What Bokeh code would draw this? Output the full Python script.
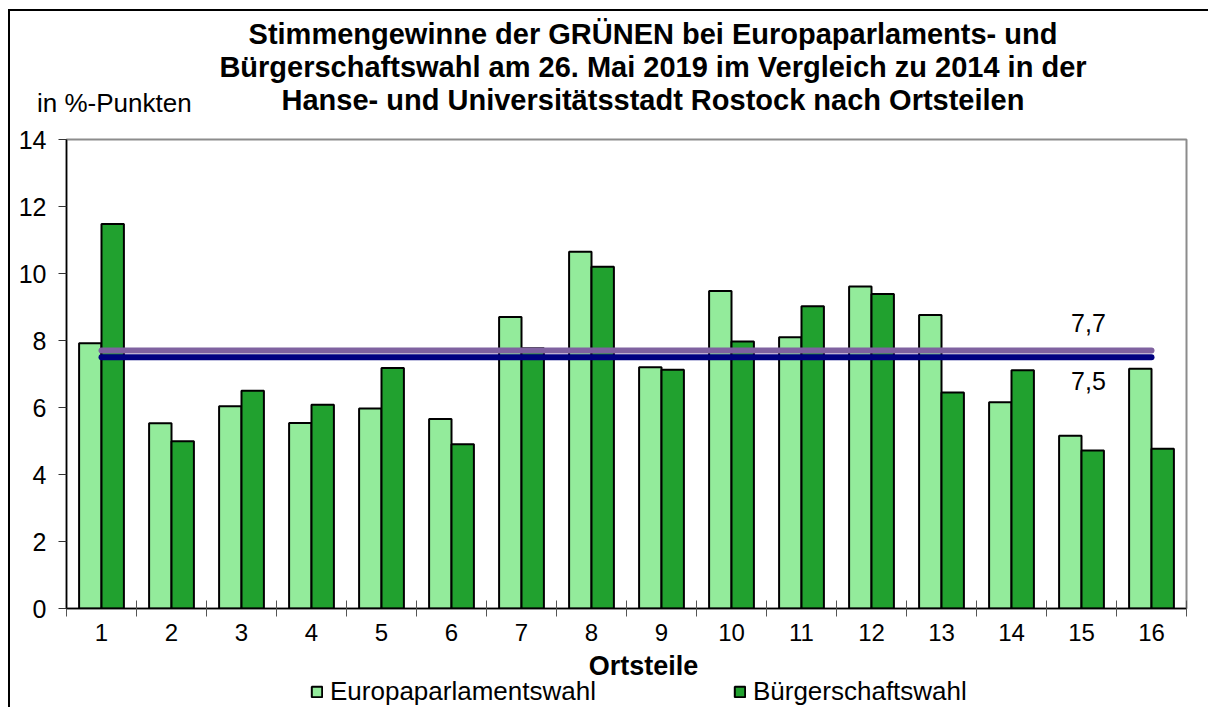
from bokeh.plotting import figure
from bokeh.layouts import column
from bokeh.models import (Range1d, FixedTicker, Label, Legend, LegendItem,
                          ColumnDataSource, Div)
from bokeh.core.properties import value
from bokeh.embed import file_html
from bokeh.resources import INLINE
import numpy as np

# ---- data ----
ortsteile = list(range(1, 17))
europawahl = [7.92, 5.53, 6.04, 5.54, 5.97, 5.66, 8.70, 10.65, 7.20, 9.48, 8.10, 9.61, 8.76, 6.16, 5.16, 7.16]
buergerschaftswahl = [11.48, 4.99, 6.50, 6.08, 7.18, 4.90, 7.77, 10.20, 7.13, 7.97, 9.02, 9.39, 6.45, 7.11, 4.72, 4.77]
mittel_europa = 7.7
mittel_buerger = 7.5
y_ticks = [0, 2, 4, 6, 8, 10, 12, 14]
title_lines = ["Stimmengewinne der GRÜNEN bei Europaparlaments- und",
               "Bürgerschaftswahl am 26. Mai 2019 im Vergleich zu 2014 in der",
               "Hanse- und Universitätsstadt Rostock nach Ortsteilen"]
unit_label = "in %-Punkten"
x_title = "Ortsteile"
series_names = ["Europaparlamentswahl", "Bürgerschaftswahl"]

FONT = "Liberation Sans"
LIGHT = "#93EB9B"
DARK = "#21A12F"
W = 1198
TOP_H = 116
MAIN_H = 524
BOT_H = 56

# ---- header (title block) ----
title_html = (
    f'<div style="position:relative;width:{W}px;height:{TOP_H}px;'
    f'font-family:\'{FONT}\';color:black;">'
    '<div style="position:absolute;left:143px;top:7px;width:1000px;'
    'text-align:center;font-size:29px;font-weight:bold;line-height:33px;'
    'white-space:nowrap;">'
    + "<br>".join(title_lines) +
    '</div>'
    '<div style="position:absolute;left:27px;top:77px;font-size:26px;'
    f'line-height:30px;white-space:nowrap;">{unit_label}</div>'
    '</div>')
top = Div(text=title_html, width=W, height=TOP_H, margin=0)

# ---- main chart ----
p = figure(width=W, height=MAIN_H, output_backend="svg", toolbar_location=None,
           x_range=Range1d(0.5, 16.5), y_range=Range1d(0, 14),
           min_border_left=56, min_border_right=22, min_border_top=12,
           min_border_bottom=43, background_fill_color="white",
           border_fill_color="white")
p.xgrid.visible = False
p.ygrid.visible = False
p.outline_line_color = "#8c8c8c"
p.outline_line_width = 2

x = np.array(ortsteile, dtype=float)
bw = 0.32
src = ColumnDataSource(dict(x_eu=x - bw / 2, x_bu=x + bw / 2,
                            eu=europawahl, bu=buergerschaftswahl))
r_eu = p.vbar(x="x_eu", top="eu", width=bw, bottom=0, source=src,
              fill_color=LIGHT, line_color="black", line_width=2)
r_bu = p.vbar(x="x_bu", top="bu", width=bw, bottom=0, source=src,
              fill_color=DARK, line_color="black", line_width=2)

p.line([ortsteile[0], ortsteile[-1]], [mittel_europa] * 2, line_color="#7F62A0",
       line_width=6, line_cap="round")
p.line([ortsteile[0], ortsteile[-1]], [mittel_buerger] * 2, line_color="#000080",
       line_width=6, line_cap="round")

fmt = lambda v: f"{v:.1f}".replace(".", ",")
p.add_layout(Label(x=15.1, y=mittel_europa, y_offset=28, text=fmt(mittel_europa),
                   text_font=FONT, text_font_size="25px", text_align="center",
                   text_baseline="middle", text_color="black"))
p.add_layout(Label(x=15.1, y=mittel_buerger, y_offset=-24, text=fmt(mittel_buerger),
                   text_font=FONT, text_font_size="25px", text_align="center",
                   text_baseline="middle", text_color="black"))

yax = p.yaxis[0]
yax.ticker = FixedTicker(ticks=y_ticks)
yax.major_tick_in = 0
yax.major_tick_out = 8
yax.minor_tick_line_color = None
yax.axis_line_color = "black"
yax.axis_line_width = 1.5
yax.major_tick_line_color = "#333333"
yax.major_label_text_font = FONT
yax.major_label_text_font_size = "25px"
yax.major_label_text_color = "black"
yax.major_label_standoff = 12

xax = p.xaxis[0]
xax.ticker = FixedTicker(ticks=ortsteile, minor_ticks=[v + 0.5 for v in [0] + ortsteile])
xax.major_tick_line_color = None
xax.major_tick_in = 0
xax.major_tick_out = 8
xax.minor_tick_in = 8
xax.minor_tick_out = 8
xax.minor_tick_line_color = "#555555"
xax.axis_line_color = "black"
xax.axis_line_width = 1.5
xax.major_label_text_font = FONT
xax.major_label_text_font_size = "24px"
xax.major_label_text_color = "black"
xax.major_label_standoff = 7

# ---- bottom strip: x title and legend ----
bot = figure(width=W, height=BOT_H, output_backend="svg", toolbar_location=None,
             x_range=Range1d(66, 1186), y_range=Range1d(BOT_H, 0),
             min_border=0, outline_line_color=None,
             background_fill_color="white", border_fill_color="white")
bot.axis.visible = False
bot.grid.visible = False
bot.text(x=[643], y=[14], text=[x_title], text_font=value(FONT),
         text_font_size="27px", text_font_style="bold", text_align="center",
         text_baseline="middle", text_color="black")
# legend swatches: renderers carry only the styles (no visible data)
l_eu = bot.vbar(x=[np.nan], top=[np.nan], width=1, fill_color=LIGHT,
                line_color="black", line_width=2)
l_bu = bot.vbar(x=[np.nan], top=[np.nan], width=1, fill_color=DARK,
                line_color="black", line_width=2)
legend = Legend(items=[LegendItem(label=series_names[0], renderers=[l_eu]),
                       LegendItem(label=series_names[1], renderers=[l_bu])],
                orientation="horizontal", location=(244, 0),
                glyph_width=13, glyph_height=13, label_standoff=7, spacing=137,
                padding=0, margin=0, border_line_color=None,
                background_fill_alpha=0, label_text_font=FONT,
                label_text_font_size="26px", label_text_color="black",
                label_height=26)
bot.add_layout(legend)

layout = column(top, p, bot, spacing=0)
layout.styles = {"border-left": "2px solid black", "border-top": "2px solid black",
                 "margin-left": "8px", "margin-top": "9px"}

open("out.html", "w").write(file_html(layout, INLINE))
